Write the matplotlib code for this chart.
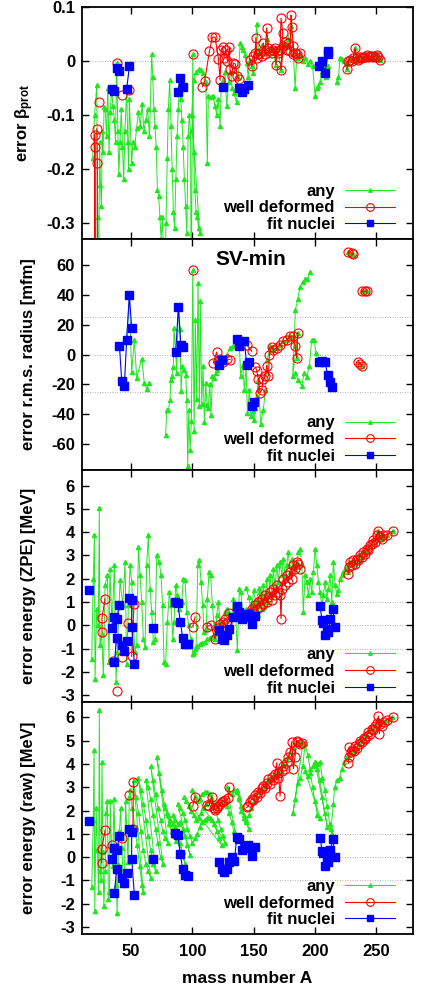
import numpy as np
import matplotlib
matplotlib.use("Agg")
import matplotlib.pyplot as plt

plt.rcParams.update({
    "font.family": ["Liberation Sans", "DejaVu Sans"],
    "font.weight": "bold",
    "axes.unicode_minus": False,
    "mathtext.fontset": "custom",
    "mathtext.rm": "Liberation Sans:bold",
    "mathtext.bf": "Liberation Sans:bold",
    "mathtext.it": "Liberation Sans:bold",
})

# ---------------- data: (mass number A, error) ; None breaks a line ----------------
beta_any = [
    (18.7, -0.18), (20.3, -0.10), (22.0, -0.045), (22.8, -0.29), (23.5, -0.45), (24.3, -0.15),
    (25.0, -0.23), (25.8, -0.27), (26.5, -0.13), (27.2, -0.17), (28.0, -0.085), (29.0, -0.09),
    (30.0, -0.14), (31.0, -0.05), (32.0, -0.17), (33.0, -0.095), (34.2, -0.052), (35.2, -0.083),
    (36.4, -0.11), (37.3, -0.15), (38.3, -0.004), (39.2, -0.13), (40.0, -0.21), (41.0, -0.15),
    (42.0, -0.09), (43.0, -0.16), (44.0, -0.22), (45.0, -0.13), (46.4, -0.053), (47.3, -0.15),
    (48.0, -0.20), (48.6, -0.07), (50.5, -0.19), (51.5, -0.15), (53.0, -0.16), (54.5, -0.125),
    (56.0, -0.095), (57.5, -0.12), (59.0, -0.08), (60.5, -0.13), (62.0, -0.11), (63.5, -0.09),
    (65.0, -0.14), (66.8, 0.012), (67.7, -0.03), (68.6, -0.09), (69.5, -0.12), (70.5, -0.16),
    (71.5, -0.24), (72.5, -0.25), (73.5, -0.29), (74.5, -0.33), (75.5, -0.29), (76.5, -0.36),
    (77.5, -0.42), (78.5, -0.30), (79.5, -0.18), (80.4, -0.09), (81.5, -0.035), (82.5, -0.12),
    (83.5, -0.20), (84.5, -0.28), (85.5, -0.31), (86.5, -0.22), (87.5, -0.14), (88.5, -0.09),
    (89.5, -0.035), (90.5, -0.07), (91.5, -0.11), (92.5, -0.16), (93.5, -0.22), (94.5, -0.27),
    (95.5, -0.32), (96.5, -0.14), (97.5, -0.10), (98.5, -0.13), (99.0, -0.45), (100.3, 0.013),
    (101.0, -0.17), (102.0, -0.24), (103.0, -0.28), (104.0, -0.29), (105.0, -0.31), (106.0, -0.32),
    (99.5, -0.10), (101.0, -0.035), (103.0, -0.02), (105.0, -0.015), (107.0, -0.017), (109.0, -0.022),
    (111.0, -0.04), (112.2, -0.19), (113.0, -0.065), (115.0, -0.067), (117.0, -0.065), (118.5, -0.084),
    (119.8, -0.10), (121.0, -0.07), (122.6, -0.12), (123.5, -0.05), (125.0, -0.035), (126.5, -0.02),
    (128.0, -0.084), (129.5, -0.04), (131.0, -0.02), (132.5, -0.05), (134.0, -0.06), (136.0, -0.077),
    (137.5, -0.03), (138.9, 0.033), (140.3, 0.025), (141.6, 0.021), (143.0, 0.01), (144.3, -0.004),
    (145.5, -0.03), (147.0, 0.002), (148.4, -0.01), (149.8, -0.022), (151.1, 0.01), (152.5, 0.069),
    (153.8, 0.02), (155.2, 0.015), (157.0, 0.03), (159.0, 0.015), (160.6, 0.04), (162.0, 0.02),
    (164.0, 0.025), (166.0, 0.015), (168.2, -0.007), (170.0, 0.02), (172.3, -0.017), (174.0, 0.03),
    (176.0, 0.025), (178.0, 0.04), (180.5, 0.065), (182.4, 0.012), (183.7, -0.05), (185.1, 0.005),
    (186.5, 0.005), (188.0, 0.01), (190.0, 0.0), (192.0, 0.005), (194.0, -0.005), (196.0, 0.0),
    (198.0, -0.01), (200.1, -0.065), (201.4, -0.05), (202.8, -0.047), (204.1, -0.04), (205.5, -0.02),
    (207.0, -0.005), (209.0, -0.03), (211.0, -0.01), None,
    (217.7, -0.04), (219.1, -0.03), (220.5, 0.006), (222.0, 0.004), (223.5, 0.0), (225.0, -0.005),
    (226.0, -0.016), (227.2, 0.0), (229.0, 0.005), (231.0, 0.003), (232.6, 0.024), (234.0, 0.004),
    (236.0, 0.0), (238.0, 0.005), (240.0, 0.003), (242.0, 0.006), (244.0, 0.008), (246.0, 0.007),
    (248.0, 0.006), (250.4, 0.011), (252.0, 0.006), (253.1, 0.002),
]
beta_wd = [
    (20.2, -0.60), (20.3, -0.137), (20.6, -0.159), (21.0, -0.55), None,
    (22.1, -0.126), (22.4, -0.189), (22.6, -0.50), None, (23.9, -0.076), None,
    (38.3, -0.004), None, (42.6, -0.063), None, (48.6, -0.054), None, (100.3, 0.013), None,
    (108.2, -0.048), (110.1, -0.037), (113.9, 0.018), (116.3, 0.044), (118.5, 0.044), (121.2, 0.004),
    (122.6, -0.036), (123.4, 0.021), (124.7, 0.025), (125.8, 0.006), (127.2, 0.021), (128.5, 0.0),
    (130.2, 0.025), (130.7, -0.016), (132.1, -0.028), (133.4, -0.004), (135.0, -0.006), (136.7, -0.028),
    (137.8, -0.034), None,
    (147.0, 0.002), (148.4, -0.01), (149.8, 0.009), (151.1, 0.015), (151.9, 0.043), (152.5, 0.006),
    (153.8, 0.012), (155.2, 0.015), (156.6, 0.009), (157.9, 0.033), (159.3, 0.012), (160.6, 0.061),
    (162.0, 0.024), (163.4, 0.018), (164.7, 0.015), (166.1, 0.021), (167.4, 0.024), (168.2, -0.007),
    (168.8, 0.018), (170.2, 0.015), (171.5, 0.021), (172.3, 0.079), (173.7, 0.052), (172.3, -0.017),
    (174.2, 0.027), (175.6, 0.035), (177.0, 0.021), (178.3, 0.033), (179.7, 0.018), (180.5, 0.085),
    (181.0, 0.063), (182.4, 0.027), (182.4, 0.012), (183.7, 0.015), (185.1, 0.012), (186.5, 0.005),
    (187.8, 0.015), None,
    (225.9, -0.016), (227.2, 0.0), (228.6, 0.002), (229.9, 0.0), (231.3, 0.006), (232.6, 0.024),
    (234.0, 0.006), (235.4, 0.002), (236.8, 0.008), (238.1, 0.005), (239.5, 0.008), (240.8, 0.007),
    (242.2, 0.011), (243.5, 0.008), (244.9, 0.009), (246.3, 0.007), (247.6, 0.009), (249.0, 0.008),
    (250.4, 0.011), (251.7, 0.007), (253.1, 0.002),
]
beta_fit = [
    (34.2, -0.052), (36.4, -0.056), None, (38.3, -0.013), (40.5, -0.018), None,
    (46.4, -0.053), (48.6, -0.010), None,
    (88.0, -0.058), (90.2, -0.031), (92.7, -0.048), None, (124.7, -0.048), None,
    (138.3, -0.050), (140.2, -0.057), (142.4, -0.052), (145.1, -0.045), None,
    (203.6, -0.010), (206.0, -0.001), (208.2, -0.023), (210.4, 0.012), (211.0, 0.018),
]

rad_any = [
    (46.4, 10.1), (48.6, 40.0), (50.5, -11.9), (52.7, 9.7), (54.6, -15.7), (58.7, -2.7),
    (60.8, -19.1), (62.7, -22.9), (64.7, -19.1), None,
    (78.2, -53.9), (79.1, -37.5), (80.4, -37.5), (81.8, -30.3), (82.3, -16.9), (83.1, -14.6),
    (84.5, -8.3), (85.0, 18.0), (86.4, 1.6), (87.2, -12.4), (88.6, 32.1), (89.9, 16.9),
    (90.8, -24.7), (91.8, -7.9), (93.2, -10.1), (94.6, -13.5), (95.4, -30.3), (96.2, -74.8),
    (97.0, -37.1), (98.1, -64.0), (99.2, -44.9), (100.3, 56.9), (101.4, -51.7), (102.4, 23.6),
    (103.5, -29.9), (104.6, 48.3), (105.7, -34.8), (106.5, 36.0), (107.6, -33.3), (108.7, -7.9),
    (109.8, -45.6), (110.9, -19.1), (111.9, -33.7), (113.0, -36.0), (114.1, -19.5), (115.2, -40.4),
    (116.3, -14.6), (117.9, -15.7), (119.3, -12.4), (120.4, -10.1), (122.6, -5.6), (125.3, -2.9),
    (128.0, 0.0), (130.7, 4.5), (133.4, 6.1), (136.2, 10.8), (138.3, 6.1), (139.4, -14.6),
    (141.0, -6.7), (142.4, -23.6), (143.8, -7.9), (144.9, -39.3), (146.5, -23.6), (147.6, -41.6),
    (149.2, -38.2), (150.3, -43.8), (151.4, -36.0), (152.5, -28.1), (153.8, -16.9), (155.7, -46.5),
    (157.9, -37.1), (159.5, -23.6), (161.2, -3.4), (163.4, 5.6), (164.7, 5.4), (166.0, 3.3),
    (168.8, 4.5), (171.5, 6.7), (174.2, 9.0), (177.0, 9.7), (179.7, 12.4), (182.4, 12.4),
    (183.7, 5.6), (185.1, -2.2), (185.9, 14.6), (181.8, -14.6), (184.0, 30.1), (185.9, 37.1),
    (187.8, 45.4), (190.0, 49.0), (191.9, 51.0), (193.8, 50.6), (196.0, 55.5), None,
    (183.7, -12.4), (186.5, -16.9), (189.2, -21.3), (191.1, -12.4), (193.3, -15.1), (195.4, -7.4),
    (197.3, 10.1), (199.2, 10.1), (200.9, 1.1), (202.8, -5.6), (204.7, -6.1), None,
    (227.2, 69.2), (229.9, 68.1), (231.3, 67.4), None, (238.1, 42.9), (240.8, 42.5), (242.2, 42.9),
    None, (235.4, -5.2), (236.8, -6.1), (238.1, -7.4),
]
rad_wd = [
    (100.3, 56.9), None,
    (117.1, -5.6), (119.8, 1.6), (121.2, -4.5), (122.6, -2.7), (124.7, -5.2), (128.0, -2.9),
    (130.7, -3.4), None, (144.3, 6.7), (148.4, 2.2), None,
    (151.4, -8.5), (152.5, -10.8), (153.8, -16.4), (155.2, -25.8), (156.6, -23.6), (157.9, -16.4),
    (159.3, -14.6), (160.6, -7.4), (162.0, -14.6), (162.8, 0.0), (164.7, 5.4), (166.0, 3.3),
    (168.8, 4.5), (171.5, 6.7), (174.2, 9.0), (177.0, 9.7), (179.7, 12.4), (182.4, 12.4),
    (183.7, 5.6), (185.1, -2.2), (185.9, 14.6), None,
    (227.2, 69.2), (229.9, 68.1), (231.3, 67.4), None, (238.1, 42.9), (240.8, 42.5), (242.2, 42.9),
    None, (235.4, -5.2), (236.8, -6.1), (238.1, -7.4),
]
rad_fit = [
    (40.5, 6.1), (42.4, -18.0), (44.5, -21.3), (46.4, 10.1), (48.6, 40.0), (50.5, 18.0), None,
    (86.4, 1.6), (88.6, 32.1), (90.5, 6.7), (92.7, 4.9), None, (122.0, -7.0), (124.5, -3.8), None,
    (136.2, 10.8), (138.3, 6.1), (142.4, 9.0), (144.3, -7.0), (146.5, -4.7), None,
    (148.4, -34.8), (150.6, -31.9), None,
    (203.6, -4.7), (206.0, -4.5), (208.2, -4.9), (210.4, -13.9), (212.3, -18.7), (214.2, -21.8),
]

zpe_any = [
    (17.9, -1.43), (19.2, 2.0), (20.1, 3.86), (20.6, -2.29), (22.0, 0.72), (23.3, 0.0),
    (24.1, 5.04), (24.6, -0.86), (26.0, -0.36), (27.4, -2.15), (28.8, 1.72), (30.7, 2.15),
    (32.0, -1.57), (32.8, 2.43), (34.5, 0.0), (36.4, 2.58), (37.7, -2.43), (38.8, -1.14),
    (41.0, 1.93), (43.2, 0.86), (45.1, 2.72), (46.4, -1.65), (47.8, 0.86), (49.2, 2.58),
    (50.5, 1.86), (51.9, 0.0), (53.2, -1.14), (54.6, -0.86), (56.0, 3.36), (57.3, 2.15),
    (58.7, 1.0), (60.0, -0.57), (61.4, -0.93), (62.7, 2.58), (64.1, 3.86), (65.5, 1.57),
    (66.8, 0.57), (68.2, -0.72), (69.5, -0.57), (70.9, 3.0), (73.0, 2.72), (74.4, 2.15),
    (75.7, 0.86), (76.9, -1.57), (78.2, -1.65), (79.6, 0.14), (81.2, 1.43), (82.6, 0.86),
    (84.0, -0.57), (85.0, 0.14), (86.4, 1.72), (87.8, 1.29), (89.1, 0.72), (91.3, 1.0),
    (92.7, 2.0), (94.0, 1.93), (95.4, 0.57), (97.0, 0.0), (98.6, -0.57), (100.3, -1.22),
    (101.6, -1.14), (103.0, -0.93), (104.4, 2.58), (105.7, 2.79), (107.1, 1.86), (108.4, 0.86),
    (109.5, -0.29), (111.1, -0.14), (112.2, 1.14), (113.6, 2.29), (114.9, 2.15), (116.3, 0.86),
    (117.7, 0.0), (118.8, -0.57), (119.8, 0.43), (121.2, 1.0), (122.6, 0.14), (123.9, -0.29),
    (125.3, 0.14), (126.6, 0.57), (128.0, 0.72), (129.4, 0.57), (130.7, 0.36), (132.1, 0.29),
    (133.4, 1.14), (134.8, 0.86), (136.7, -1.07), (138.3, 1.57), (139.4, 1.43), (141.0, 0.57),
    (142.4, 0.29), (143.8, 0.72), (145.7, 0.43), (147.0, 0.72), (148.4, 1.0), (149.8, 0.86),
    (151.1, 0.57), (152.5, 1.14), (153.8, 0.43), (155.2, 1.43), (156.6, 0.72), (157.9, 1.72),
    (159.3, 0.86), (160.6, 2.0), (162.0, 1.0), (163.4, 2.15), (164.7, 1.29), (166.1, 2.43),
    (167.4, 1.57), (168.8, 2.58), (170.2, 1.86), (171.5, 2.72), (172.9, 2.15), (174.2, 2.86),
    (175.6, 2.15), (176.9, 2.58), (178.3, 3.15), (179.7, 2.29), (181.0, 2.86), (182.4, 2.58),
    (183.7, 2.43), (185.1, 2.72), (186.5, 3.15), (187.8, 3.29), (189.2, 2.58), (190.5, 0.57),
    (191.9, 2.15), (193.3, 1.86), (194.6, 1.29), (196.0, 2.0), (197.3, 1.43), (198.7, 2.29),
    (200.1, 3.29), (201.4, 2.58), (202.8, 1.86), (204.1, 1.43), (205.5, 0.86), (206.9, 1.29),
    (208.2, 1.86), (209.6, 1.14), (210.9, 1.57), (212.3, 2.15), (213.7, 1.0), (215.0, 2.72),
    (216.4, 1.72), (217.7, 1.36), (219.1, 1.5), (220.5, 2.0), (221.8, 2.15), (223.2, 2.29),
    (224.5, 2.4), (225.9, 2.5), (227.2, 2.29), (228.6, 2.72), (229.9, 2.58), (231.3, 2.79),
    (232.6, 2.65), (234.0, 2.86), (235.4, 2.79), (236.8, 3.0), (238.1, 2.93), (239.5, 3.15),
    (240.8, 3.08), (242.2, 3.29), (243.5, 3.22), (244.9, 3.43), (246.3, 3.5), (247.6, 3.65),
    (249.0, 3.58), (250.4, 3.86), (251.7, 4.05), (253.1, 3.79), (254.4, 3.72), (255.8, 3.86),
    (258.5, 3.9), (264.0, 4.05), None,
    (100.3, -1.22), (102.0, -1.0), (104.0, -0.9), (106.0, -0.8), (108.0, -0.75), (110.0, -0.7),
    (112.0, -0.6), (114.0, -0.55), (116.0, -0.5), (118.0, -0.4), (120.0, -0.3), None,
    (144.0, 1.6), (146.0, 1.2), (148.0, 0.6), (150.0, 1.5), (152.0, 0.9), (154.0, 1.6),
    (156.0, 1.2), (158.0, 0.8), (160.0, 1.4),
]
zpe_wd = [
    (28.8, 1.14), (26.3, 0.33), (26.3, -0.29), None, (35.5, -1.53), None, (38.6, -2.8), None,
    (42.4, -1.36), None, (47.8, 0.1), None, (52.4, 0.9), (50.5, -1.33), None,
    (100.3, -0.07), (102.2, 0.36), None,
    (111.7, -0.07), (114.9, 0.03), (118.5, -0.57), (120.5, -0.1), (122.6, 0.07), (124.7, 0.14),
    (126.6, 0.26), (128.5, 0.1), (130.2, 0.54), None,
    (147.0, 0.55), (148.4, 0.72), (149.8, 0.6), (151.1, 0.86), (152.5, 0.7), (153.8, 1.0),
    (155.2, 0.8), (156.6, 1.14), (157.9, 0.9), (159.3, 1.29), (160.6, 1.0), (162.0, 1.2),
    (163.4, 1.43), (164.7, 1.1), (166.1, 1.57), (167.4, 1.29), (168.8, 1.72), (170.2, 1.43),
    (171.5, 1.29), (172.3, 0.29), (172.9, 1.57), (174.2, 2.0), (175.6, 1.72), (176.9, 2.15),
    (178.3, 1.86), (179.7, 2.29), (181.0, 2.0), (182.4, 2.58), (183.7, 2.43), (185.1, 2.72),
    (186.5, 2.65), (187.8, 2.4), None,
    (227.2, 2.19), (227.5, 2.5), (228.6, 2.72), (229.9, 2.58), (231.3, 2.79), (232.6, 2.65),
    (234.0, 2.86), (235.4, 2.79), (236.8, 3.0), (238.1, 2.93), (239.5, 3.15), (240.8, 3.08),
    (242.2, 3.29), (243.5, 3.22), (244.9, 3.43), (246.3, 3.5), (247.6, 3.65), (249.0, 3.58),
    (250.4, 3.86), (251.7, 4.05), (253.1, 3.79), (254.4, 3.72), (255.8, 3.86), (258.5, 3.9),
    (264.0, 4.05),
]
zpe_fit = [
    (16.0, 1.53), None,
    (34.2, -0.1), (36.4, 0.36), (38.3, 0.26), (40.5, 0.89), None,
    (36.4, -1.57), (38.3, -0.54), (42.4, -0.86), (44.3, -1.1), (46.4, -0.67), None,
    (48.6, 1.17), (50.5, 1.07), (50.5, -0.07), (52.7, -1.65), None, (68.2, -0.1), None,
    (85.9, 1.0), (88.0, 0.97), (90.2, 0.14), (92.1, -0.54), (94.3, -0.79), (96.7, -0.82), None,
    (122.0, -0.21), (123.9, -0.57), (125.8, -0.64), (128.0, -0.43), (130.2, -0.14), (133.4, 0.36),
    (136.2, 0.83), (138.3, 0.57), (140.5, 0.26), (143.0, 0.36), (145.7, 0.5), (148.4, 0.04),
    (151.1, 0.4), None,
    (204.1, 0.82), (205.8, 0.21), (206.9, 0.1), (208.2, -0.43), (210.1, -0.14), (211.0, -0.29),
    (212.3, 0.26), (214.5, 0.72), (216.4, -0.07),
]

raw_any = [
    (17.9, -1.3), (19.2, 1.6), (19.8, 4.6), (20.4, -2.3), (21.5, 2.1), (22.5, 0.3), (23.5, -1.5),
    (24.1, 6.3), (24.8, -0.6), (25.6, -1.0), (26.3, 4.1), (27.0, 0.2), (27.8, -2.1), (28.8, -0.6),
    (29.5, 1.9), (30.7, 2.4), (31.5, -1.8), (32.4, -1.5), (33.0, 2.4), (34.0, 0.5), (35.0, -0.4),
    (36.0, 2.5), (37.0, 0.3), (38.0, -1.2), (38.6, -2.4), (39.5, -0.3), (40.5, 1.1), (41.5, 2.1),
    (42.5, 0.4), (43.5, -0.8), (44.5, -1.2), (45.5, 2.4), (46.5, 1.1), (47.5, -0.2), (48.6, 2.6),
    (49, 2.9), (51, 2.1), (53, 1.3), (55, 0.5), (57, -0.4), (59, -1.2), (60, -1.5),
    (52, 3.3), (54, 2.6), (56, 1.9), (58, 1.1), (60, 0.3), (62, -0.3), (64, -0.6), (66, -0.9),
    (56, 3.4), (58, 2.9), (60, 2.3), (62, 1.6), (64, 0.9), (66, 0.3), (68, -0.3), (70, -0.6),
    (62, 3.3), (64, 3.0), (66, 2.5), (68, 1.8), (70, 1.2), (72, 0.6), (74, 0.0), (76, -0.3),
    (66, 3.9), (68, 3.3), (70, 2.7), (72, 2.1), (74, 1.6), (76, 1.1), (78, 0.8), (80, 0.6),
    (71, 4.3), (73, 3.6), (75, 2.9), (77, 2.3), (79, 1.9), (81, 1.4), (83, 1.1), (85, 0.9), (87, 0.7),
    (78, 2.1), (80, 1.8), (82, 1.6), (84, 1.4), (86, 1.3), (88, 1.0), (90, 0.6), (92, 0.2), (94, -0.3),
    (84, 1.8), (86, 1.6), (88, 1.4), (90, 1.5), (92, 1.2), (94, 0.9), (96, 0.5), (98, 0.1),
    (88, 2.3), (90, 2.1), (92, 1.9), (94, 1.6), (96, 1.2), (98, 0.9), (100, 0.6), (102, 0.8),
    (104, 1.0), (106, 1.3), (108, 1.5), (110, 1.6), (112, 1.7), (114, 1.7), (116, 1.6), (118, 1.4),
    (120, 1.1), (122, 0.8), (124, 0.5),
    (93, 2.6), (95, 2.4), (97, 2.2), (99, 2.0), (101, 1.8), (103, 1.6), (105, 1.7), (107, 1.9),
    (109, 2.1), (111, 2.3), (113, 2.4), (115, 2.5), (117, 2.3), (119, 2.0), (121, 1.6), (123, 1.2),
    (125, 0.9), (127, 0.6),
    (100, 2.9), (102, 2.6), (104, 2.4), (106, 2.5), (108, 2.7), (110, 2.8), (112, 2.8), (114, 2.7),
    (116, 2.5), (118, 2.2), (120, 2.1), (122, 2.3), (124, 2.4), (126, 2.4), (128, 2.2), (130, 1.9),
    (132, 1.5), (134, 1.1), (136, 0.8),
    (128, 3.0), (130, 2.8), (132, 2.7), (134, 2.9), (136, 2.8), (138, 2.6), (140, 2.2), (142, 1.8),
    (144, 1.5), (146, 1.2),
    (136, 2.9), (138, 2.5), (140, 2.0), (142, 1.7), (144, 1.6), (146, 1.8), (148, 2.1),
    (150, 2.4), (152, 2.6), (154, 2.8), (156, 2.9), (158, 3.0), (160, 3.2), (162, 3.3), (164, 3.4),
    (166, 3.5), (168, 3.5), (170, 3.7), (172, 3.8), (174, 4.0), (176, 4.2), (178, 4.3), (180, 4.5),
    (182, 4.7), (184, 4.9), (186, 4.9), (188, 5.0), (190, 4.8),
    (182, 1.9), (184, 2.5), (186, 3.2), (188, 3.4), (190, 3.9), (192, 4.9), (194, 4.4), (196, 3.8),
    (198, 3.0), (200, 2.4), (202, 1.8), (204, 1.7),
    (192, 3.7), (194, 3.5), (196, 3.6), (198, 3.9), (200, 4.1), (202, 3.8), (204, 3.3), (206, 2.6),
    (208, 1.9), (210, 1.3),
    (200, 4.1), (202, 4.0), (204, 4.1), (206, 3.4), (208, 2.9), (210, 2.2), (212, 1.4), (214, 1.0),
    (213, 1.2), (215, 2.3), (216, 3.0), (218, 3.3), (220, 3.4), (222, 3.8), (224, 4.1), (226, 4.3),
    (228, 4.4), (230, 4.5), (232, 4.6), (234, 4.7), (236, 4.9), (238, 5.0), (240, 5.1), (242, 5.2),
    (244, 5.4), (246, 5.5), (248, 5.6), (250, 5.8), (252, 5.9), (254, 5.7), (256, 5.8), (258, 5.9),
    (260, 5.95), (263, 6.0),
]
raw_wd = [
    (28.8, 1.16), (26.0, 0.33), (26.0, -0.24), None, (34.2, 0.52), None, (42.4, 0.8), None,
    (48.6, 2.66), None, (51.9, 3.23), (51.5, 1.2), None,
    (100.3, 2.19), (102.2, 2.59), None,
    (111.7, 2.23), (113.5, 2.2), (115.8, 2.59), (117.5, 2.1), (118.5, 2.02), (120.0, 2.1),
    (121.2, 2.2), (122.6, 2.3), (124.0, 2.35), (125.3, 2.4), (127.0, 2.45), (129.4, 2.52),
    (130.2, 2.99), None,
    (144.3, 2.13), (145.7, 2.19), (147.0, 2.37), (148.4, 2.5), (149.8, 2.45), (151.1, 2.65),
    (152.5, 2.6), (153.8, 2.8), (155.2, 2.75), (156.6, 2.95), (157.9, 3.05), (159.3, 2.95),
    (160.6, 3.2), (162.0, 3.35), (163.4, 3.15), (164.7, 3.45), (166.1, 3.3), (167.4, 3.55),
    (168.8, 4.05), (169.5, 3.4), (170.2, 3.6), (171.5, 2.62), (172.9, 3.7), (174.2, 3.9),
    (175.6, 3.8), (176.9, 4.1), (178.3, 4.3), (179.7, 4.5), (181.0, 4.95), (182.4, 3.8),
    (183.7, 4.3), (185.1, 5.0), (186.5, 4.95), (187.8, 4.85), (189.2, 4.9), None,
    (227.2, 4.02), (227.5, 4.3), (228.0, 4.72), (229.2, 4.5), (230.5, 4.6), (231.8, 4.55),
    (233.0, 4.75), (234.3, 4.7), (235.6, 4.85), (237.0, 5.0), (238.3, 4.95), (239.6, 5.1),
    (241.0, 5.05), (242.3, 5.2), (243.6, 5.35), (245.0, 5.3), (246.3, 5.5), (247.6, 5.45),
    (249.0, 5.65), (250.3, 5.75), (251.7, 6.05), (252.5, 5.3), (253.1, 5.7), (254.4, 5.65),
    (256.0, 5.8), (258.5, 5.9), (264.0, 6.0),
]
raw_fit = [
    (16.0, 1.55), None,
    (34.2, -0.06), (36.4, 0.37), (38.3, 0.30), (40.5, 0.9), None,
    (36.4, -1.53), (38.3, -0.53), (42.4, -0.89), (44.3, -1.1), (46.4, -0.67), None,
    (48.6, 1.19), (50.5, 1.06), (50.5, -0.06), (52.7, -1.63), None, (68.2, -0.09), None,
    (85.9, 1.04), (88.0, 0.97), (90.2, 0.13), (92.1, -0.53), (94.3, -0.77), (96.7, -0.8), None,
    (122.0, -0.23), (123.9, -0.49), (125.8, -0.63), (128.0, -0.49), (130.2, -0.23), (132.1, -0.01),
    (134.3, -0.16), (136.2, 0.87), (138.3, 0.76), (140.5, 0.3), (143.0, 0.37), (145.7, 0.52),
    (148.4, 0.06), (151.1, 0.44), None,
    (204.1, 0.84), (205.8, 0.27), (206.9, 0.16), (208.2, -0.39), (210.1, -0.1), (211.0, -0.2),
    (212.3, 0.3), (214.5, 0.76), (216.4, 0.01),
]

panels = [
    (beta_any, beta_wd, beta_fit, "error β$_{\\mathbf{prot}}$", (-0.33, 0.1),
     [-0.3, -0.2, -0.1, 0, 0.1], ["-0.3", "-0.2", "-0.1", "0", "0.1"], [0]),
    (rad_any, rad_wd, rad_fit, "error r.m.s. radius [mfm]", (-78, 78),
     [-60, -40, -20, 0, 20, 40, 60], None, [-25, 0, 25]),
    (zpe_any, zpe_wd, zpe_fit, "error energy (ZPE) [MeV]", (-3.3, 6.65),
     list(range(-3, 7)), None, [-1, 0, 1]),
    (raw_any, raw_wd, raw_fit, "error energy (raw) [MeV]", (-3.3, 6.65),
     list(range(-3, 7)), None, [-1, 0, 1]),
]


def xy(pairs):
    a = np.array([(np.nan, np.nan) if p is None else p for p in pairs], float)
    return a[:, 0], a[:, 1]


fig = plt.figure(figsize=(4.25, 9.92), dpi=100)
gs = fig.add_gridspec(4, 1, left=0.193, right=0.972, top=0.993, bottom=0.0585, hspace=0)

GREEN = "#22e622"; RED = "#ff0000"; BLUE = "#0000ff"

for i, (d_any, d_wd, d_fit, ylab, ylim, yt, ytl, grid) in enumerate(panels):
    ax = fig.add_subplot(gs[i])
    for g in grid:
        ax.axhline(g, color="#999999", ls=(0, (1, 2)), lw=0.6, zorder=0)
    x, y = xy(d_any)
    ax.plot(x, y, color=GREEN, lw=0.7, marker="^", ms=3, mec=GREEN, mfc=GREEN,
            label="any", zorder=2)
    x, y = xy(d_wd)
    ax.plot(x, y, color=RED, lw=0.8, marker="o", ms=6.5, mfc="none", mec=RED, mew=0.8,
            label="well deformed", zorder=3)
    x, y = xy(d_fit)
    ax.plot(x, y, color=BLUE, lw=0.8, marker="s", ms=5.5, mec=BLUE, mfc=BLUE,
            label="fit nuclei", zorder=4)
    ax.set_xlim(10, 280)
    ax.set_ylim(*ylim)
    ax.set_xticks([50, 100, 150, 200, 250])
    ax.set_yticks(yt)
    if ytl:
        ax.set_yticklabels(ytl)
    ax.tick_params(direction="in", top=True, right=True, length=5, width=1, labelsize=12)
    ax.tick_params(axis="x", pad=7)
    ax.tick_params(axis="y", pad=5)
    for s in ax.spines.values():
        s.set_linewidth(1.3)
    ax.set_ylabel(ylab, fontsize=12, fontweight="bold")
    ax.yaxis.set_label_coords(-0.14, 0.5)
    if i < 3:
        ax.tick_params(labelbottom=False)
    else:
        ax.set_xlabel("mass number A", fontsize=12.5, fontweight="bold", labelpad=9)
    if i == 1:
        ax.text(0.51, 0.91, "SV-min", transform=ax.transAxes, ha="center", va="center",
                fontsize=15, fontweight="bold")
    leg = ax.legend(loc="lower right", frameon=False, markerfirst=False, numpoints=1,
                    fontsize=12, handlelength=3.0, handletextpad=0.6, labelspacing=0.1,
                    borderaxespad=0.0, bbox_to_anchor=(0.965, 0.0))
    for h in leg.legend_handles:
        h.set_markersize(h.get_markersize() * 0.85)

fig.savefig("out.png", dpi=100)
